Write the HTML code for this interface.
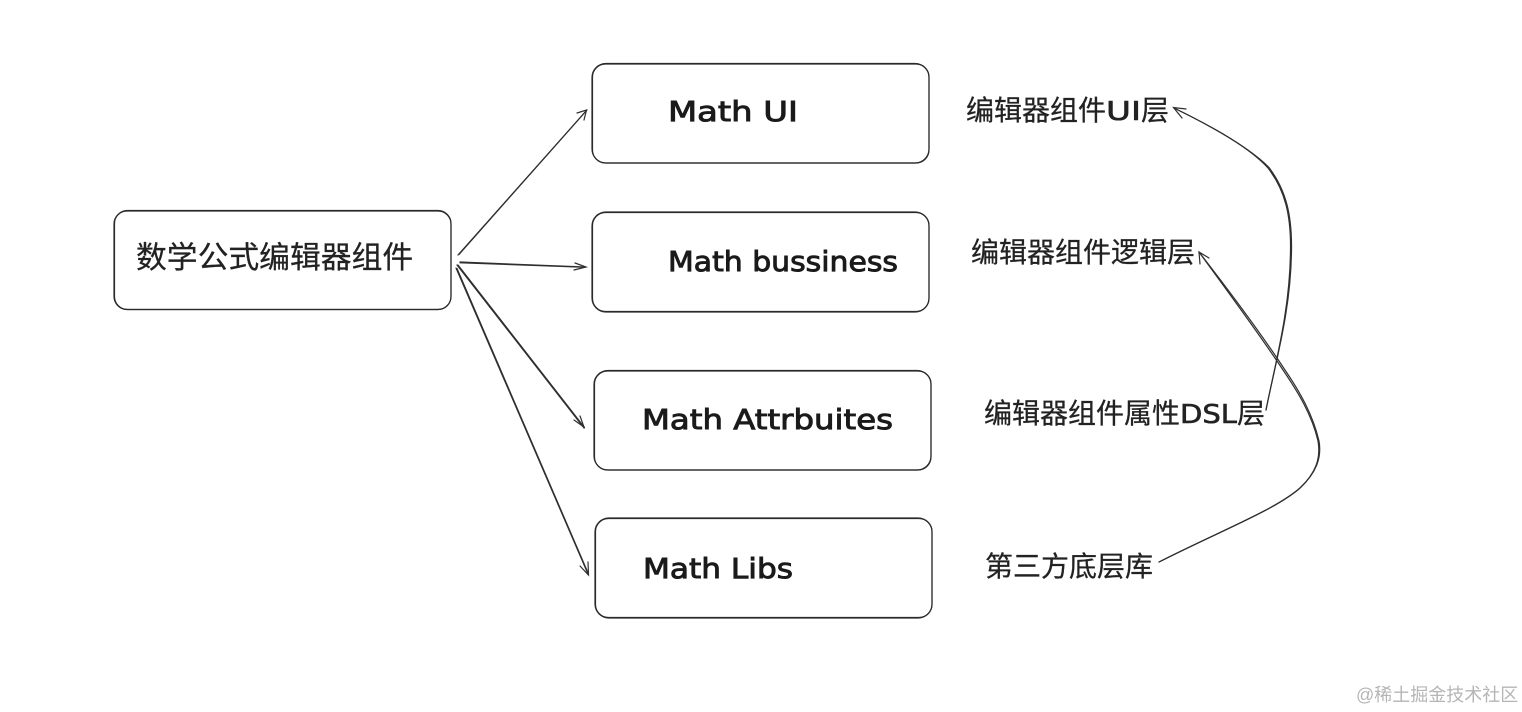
<!DOCTYPE html>
<html><head><meta charset="utf-8"><style>
html,body{margin:0;padding:0;background:#fff;width:1522px;height:712px;overflow:hidden}
svg{display:block}
.b{fill:none;stroke:#2a2a2a;stroke-width:1.2}
.l{fill:none;stroke:#2f2f2f;stroke-width:1.2;stroke-linecap:round}
.c{font-family:"Liberation Sans","Noto Sans CJK SC",sans-serif;font-size:28px;fill:#222;stroke:#222;stroke-width:.25}
.m{font-family:"DejaVu Sans",sans-serif;font-size:28px;fill:#1a1a1a;stroke:#1a1a1a;stroke-width:.9}
.n{font-family:"DejaVu Sans",sans-serif;font-size:26px;fill:#222;stroke:#222;stroke-width:.6}
</style></head><body>
<svg width="1522" height="712" viewBox="0 0 1522 712" xmlns="http://www.w3.org/2000/svg">
<rect width="1522" height="712" fill="#fff"/>
<g class="b">
<rect x="114" y="211" width="337" height="98.500" rx="13"/><rect x="114.500" y="210.500" width="336.500" height="99" rx="13"/>
<rect x="592.500" y="64" width="336.500" height="99" rx="13"/><rect x="592" y="63.500" width="337" height="99.500" rx="14"/>
<rect x="592.500" y="212.500" width="336.500" height="99" rx="13"/><rect x="592" y="212" width="337" height="100" rx="14"/>
<rect x="594.500" y="371" width="336.500" height="99" rx="13"/><rect x="594" y="370.500" width="337" height="99.500" rx="14"/>
<rect x="595.500" y="518.500" width="336.500" height="99" rx="13"/><rect x="595" y="518" width="337" height="100" rx="14"/>
</g>
<g class="l">
<path d="M458 255 L587 110"/><path d="M459 254.500 L586 111"/>
<path d="M577 113 L586.500 110 L584 120"/>
<path d="M460 262 L585 267"/><path d="M460 262.800 L585 267.300"/>
<path d="M575 263 L586 267 L574 270"/>
<path d="M457 265 L584 428"/><path d="M458 265 L584.500 427.500"/>
<path d="M574 420 L584 427 L580 416"/>
<path d="M456 268 L588 574"/><path d="M457 268.500 L588.500 574"/>
<path d="M580 566 L588.500 575 L588 562"/>
<path d="M1266 410 C1276 360 1290 310 1290.500 250 C1291 215 1285 190 1268 168 C1250 148 1215 128 1174 108"/>
<path d="M1266 410 C1276 360 1291 310 1291.500 250 C1292 215 1286 190 1269 167.500 C1250 148 1215 128 1174 108"/>
<path d="M1186 109 L1173.500 107.500 L1182 118"/>
<path d="M1159 562 C1220 531 1275 510 1300 488 C1316 473 1322 458 1319 441 C1313 415 1300 392 1285 370 C1262 335 1230 292 1199 252"/>
<path d="M1159 562 C1220 531 1275 510 1300 488 C1316 473 1321 458 1318 441 C1312 415 1298 392 1283 370 C1260 335 1228 292 1199 252"/>
<path d="M1200 264 L1199 252 L1209 258"/>
</g>
<text class="c" x="136" y="268" style="font-size:30.800px">数学公式编辑器组件</text>
<text class="c" x="966" y="120">编辑器组件</text><text class="n" x="1106" y="120" textLength="35" lengthAdjust="spacingAndGlyphs">UI</text><text class="c" x="1141" y="120">层</text>
<text class="c" x="971" y="262">编辑器组件逻辑层</text>
<text class="c" x="984" y="423">编辑器组件属性</text><text class="n" x="1180" y="423" textLength="57" lengthAdjust="spacingAndGlyphs">DSL</text><text class="c" x="1237" y="423">层</text>
<text class="c" x="985" y="576">第三方底层库</text>
<text class="m" x="668" y="121" textLength="130" lengthAdjust="spacingAndGlyphs">Math UI</text>
<text class="m" x="668" y="271" textLength="230" lengthAdjust="spacingAndGlyphs">Math bussiness</text>
<text class="m" x="642" y="429" textLength="251" lengthAdjust="spacingAndGlyphs">Math Attrbuites</text>
<text class="m" x="643" y="578" textLength="150" lengthAdjust="spacingAndGlyphs">Math Libs</text>
<text x="1356" y="701" style="font-family:'Liberation Sans','Noto Sans CJK SC',sans-serif;font-size:18px;fill:#b5b5b5">@稀土掘金技术社区</text>
</svg>
</body></html>
